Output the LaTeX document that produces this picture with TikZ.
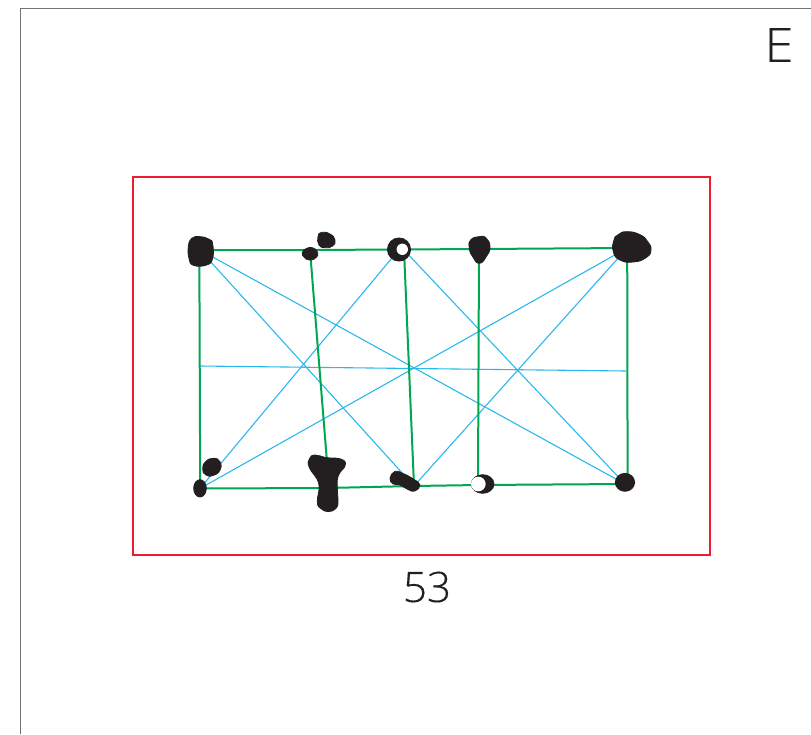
\documentclass[tikz,border=0pt]{standalone}
\usepackage{fontspec}
\setmainfont[FakeBold=0.25]{Open Sans Light}
\definecolor{inkb}{HTML}{231F20}
\definecolor{edgeg}{HTML}{00A651}
\definecolor{edgeb}{HTML}{29B9EE}
\definecolor{boxr}{HTML}{ED1C2E}
\tikzset{
  blob/.style={fill=inkb,draw=inkb,line width=0.8pt,line join=round},
  hole/.style={fill=white,draw=none},
  greenedge/.style={draw=edgeg,line width=2pt},
  blueedge/.style={draw=edgeb,line width=1.1pt},
  label/.style={text=inkb,inner sep=0pt,anchor=center}
}
\begin{document}
\begin{tikzpicture}[x=1pt,y=-1pt]
\useasboundingbox (0,0) rectangle (811,734);
\fill[white] (0,0) rectangle (811,734);
\draw[draw=black!55,line width=1.5pt] (20.3,734) -- (20.3,8.3) -- (811,8.3);
\draw[draw=boxr,line width=1.7pt] (133,177) rectangle (710,555);
% anchors
\coordinate (t1) at (200,250);
\coordinate (t2) at (310,250);
\coordinate (t3) at (399,249.5);
\coordinate (t3b) at (404,250);
\coordinate (t4) at (479,249);
\coordinate (t5) at (627.2,248);
\coordinate (b1) at (200,488.5);
\coordinate (b2) at (327,488);
\coordinate (b2t) at (327,462);
\coordinate (b3) at (414,486);
\coordinate (b4) at (478,485);
\coordinate (b5) at (625,484);
\coordinate (b5t) at (627.6,484);
\coordinate (ml) at (200,366);
\coordinate (mr) at (626,371);
% blue
\draw[blueedge] (t1) -- (b3);
\draw[blueedge] (t1) -- (b5);
\draw[blueedge] (t3) -- (b1);
\draw[blueedge] (t3b) -- (b5);
\draw[blueedge] (t5) -- (b1);
\draw[blueedge] (t5) -- (b3);
\draw[blueedge] (ml) -- (mr);
% green
\draw[greenedge] (t1) -- (t2) -- (t3) -- (t4) -- (t5);
\draw[greenedge] (b1) -- (b2) -- (b3) -- (b4) -- (b5);
\draw[greenedge] (199.3,250) -- (200.2,488);
\draw[greenedge] (t2) -- (b2t);
\draw[greenedge] (t3b) -- (b3);
\draw[greenedge] (t4) -- (b4);
\draw[greenedge] (t5) -- (b5t);
% top-left blobs
\begin{scope}[shift={(170,220)},x=0.3333pt,y=-0.3333pt]
\fill[blob] plot[smooth cycle,tension=0.8] coordinates {(90,50)(118,58)(128,72)(128,115)(110,135)(70,136)(57,115)(55,80)(65,55)};
\fill[blob] plot[smooth cycle,tension=0.9] coordinates {(397,98)(410,85)(430,84)(443,98)(438,113)(420,120)(404,113)};
\fill[blob] plot[smooth cycle,tension=0.9] coordinates {(444,50)(455,37)(480,42)(495,60)(488,78)(465,83)(447,75)};
\end{scope}
% ring
\fill[blob] (t3) circle[radius=11.6];
\fill[hole] (402.3,249.3) circle[radius=5.7];
% top-right blobs
\begin{scope}[shift={(420,220)},x=0.3333pt,y=-0.3333pt]
\fill[blob] plot[smooth cycle,tension=0.9] coordinates {(178,50)(198,54)(210,80)(200,108)(178,130)(158,110)(148,85)(152,60)};
\fill[blob] plot[smooth cycle,tension=0.9] coordinates {(620,35)(660,44)(683,65)(693,90)(678,113)(640,126)(600,120)(580,95)(582,60)(595,44)};
\end{scope}
% bottom-left blobs
\begin{scope}[shift={(180,445)},x=0.3333pt,y=-0.3333pt]
\fill[blob] plot[smooth cycle,tension=0.9] coordinates {(100,40)(120,50)(120,75)(100,91)(78,90)(68,72)(77,50)};
\fill[blob] (60,130) ellipse[x radius=19,y radius=26];
\fill[blob] plot[smooth cycle,tension=0.8] coordinates {(405,30)(440,38)(482,42)(496,60)(475,92)(472,130)(474,170)(468,190)(445,200)(422,190)(412,170)(416,115)(388,68)(388,42)};
\fill[blob] plot[smooth cycle,tension=0.8] coordinates {(630,100)(645,79)(668,85)(700,102)(720,120)(705,138)(685,134)(660,120)(640,117)};
\end{scope}
% bottom-right blobs
\begin{scope}[shift={(380,455)},x=0.3333pt,y=-0.3333pt]
\fill[blob] (308,87) ellipse[x radius=34,y radius=28];
\fill[hole] (295,87) circle[radius=22];
\fill[blob] (735,82) ellipse[x radius=29,y radius=27];
\end{scope}
\node[label,font=\fontsize{47}{47}\selectfont] (E) at (779,45) {\addfontfeature{FakeStretch=1.12}E};
\node[label,font=\fontsize{42}{42}\selectfont] (N) at (427,587) {53};
\end{tikzpicture}
\end{document}
